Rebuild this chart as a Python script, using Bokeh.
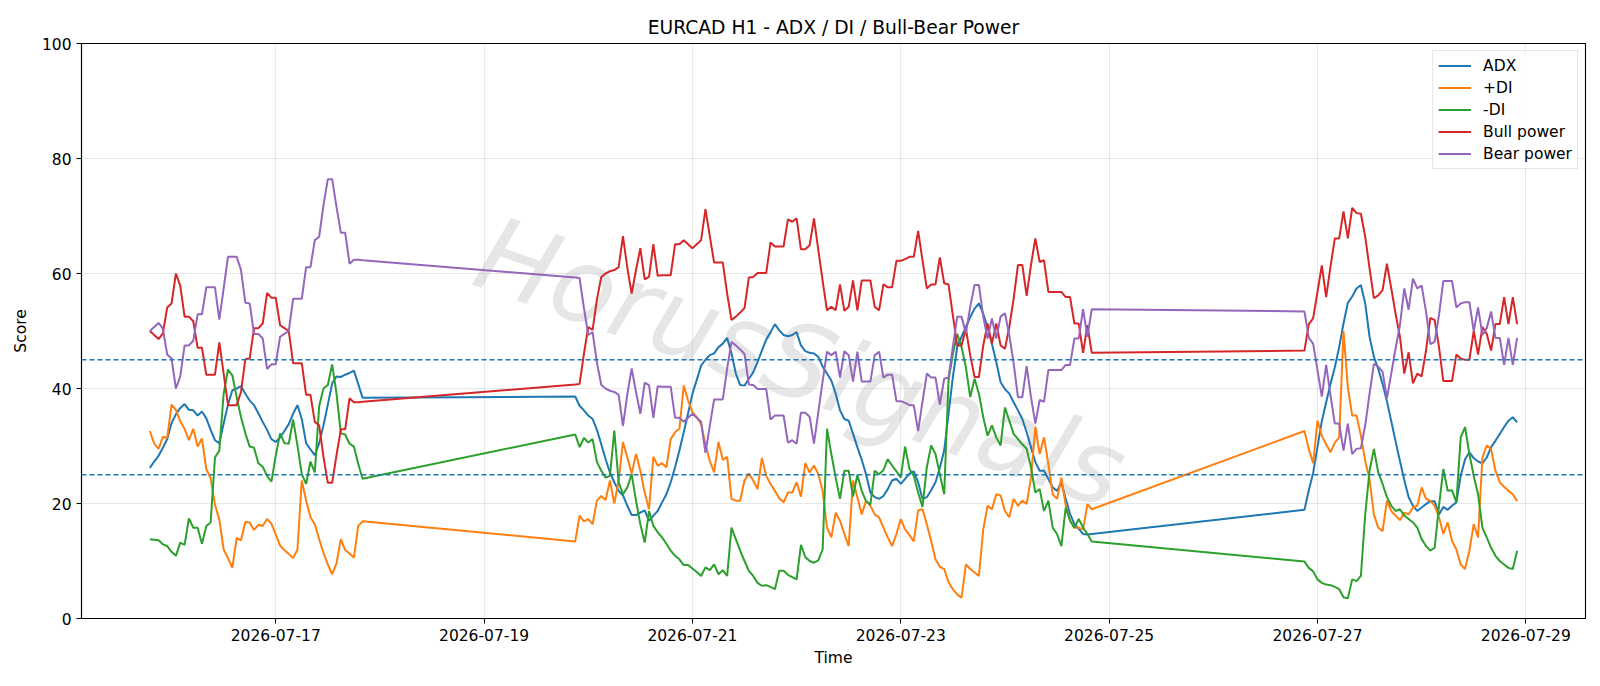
import pandas as pd
from bokeh.plotting import figure
from bokeh.models import Range1d, FixedTicker, DatetimeTickFormatter, Span
from bokeh.embed import file_html
from bokeh.resources import INLINE
from bokeh.core.properties import value

# ---------------- data ----------------
segment_starts = ["2026-07-15 19:00", "2026-07-19 21:00", "2026-07-26 21:00"]
segment_hours = [50, 120, 50]

adx_seg1 = [26.2, 27.3, 28.3, 29.7, 31.2, 34.0, 35.5, 36.6, 37.3, 36.3,
            36.2, 35.3, 36.0, 34.8, 32.8, 31.0, 30.5, 33.9, 37.2, 39.7,
            40.0, 40.4, 39.1, 37.9, 37.1, 35.7, 34.2, 32.8, 31.2, 30.7,
            31.5, 32.6, 33.8, 35.6, 37.1, 34.7, 30.5, 29.4, 28.4, 30.5,
            33.6, 37.2, 40.9, 42.1, 42.0, 42.4, 42.7, 43.1, 40.8, 38.4]
adx_seg2 = [38.6, 37.0, 36.2, 35.3, 34.7, 32.8, 30.3, 27.7, 25.4, 23.7,
            22.2, 21.4, 19.6, 18.0, 18.0, 18.4, 18.8, 17.0, 17.9, 18.7,
            20.2, 21.6, 23.7, 26.3, 29.2, 32.4, 35.7, 39.1, 41.5, 44.0,
            45.0, 45.8, 46.1, 47.2, 47.8, 48.8, 46.1, 42.6, 40.6, 40.5,
            41.7, 42.8, 44.6, 46.6, 48.5, 49.8, 51.2, 50.1, 49.3, 49.1,
            49.3, 49.8, 47.5, 46.5, 46.2, 46.1, 45.5, 43.8, 42.6, 41.4,
            39.1, 36.2, 34.7, 34.4, 32.1, 29.8, 27.6, 25.1, 21.9, 21.1,
            20.8, 21.3, 22.5, 24.0, 24.3, 23.4, 24.3, 25.2, 25.6, 23.7,
            20.8, 21.1, 22.3, 23.7, 26.2, 29.2, 35.6, 42.0, 47.2, 49.0,
            50.7, 52.4, 53.9, 54.8, 53.0, 50.7, 47.8, 44.6, 41.1, 39.9,
            39.1, 37.6, 36.2, 34.7, 32.4, 29.8, 27.2, 25.7, 25.7, 24.3,
            22.8, 22.2, 23.7, 20.8, 18.2, 16.4, 15.6, 14.7, 14.6, 14.7]
adx_seg3 = [18.9, 22.3, 25.3, 29.8, 34.3, 37.6, 40.8, 43.7, 47.2, 51.3,
            54.9, 56.0, 57.4, 58.0, 54.8, 49.0, 45.5, 43.4, 40.8, 37.8,
            34.3, 30.8, 27.4, 24.1, 21.1, 19.6, 18.7, 19.3, 19.9, 20.4,
            20.4, 18.1, 19.4, 18.9, 19.6, 20.2, 24.8, 27.7, 28.9, 27.9,
            27.3, 27.0, 28.0, 29.8, 30.9, 32.1, 33.3, 34.4, 35.0, 34.1]

pdi_seg1 = [32.6, 30.4, 29.5, 31.6, 31.4, 37.2, 36.3, 34.3, 33.0, 31.0,
            33.0, 29.9, 31.3, 26.0, 24.4, 19.8, 17.2, 12.0, 10.5, 8.8,
            14.0, 13.6, 16.8, 16.7, 15.4, 16.3, 16.1, 17.3, 16.5, 14.6,
            12.7, 11.9, 11.2, 10.5, 12.0, 24.0, 20.5, 17.6, 16.4, 13.8,
            11.4, 9.4, 7.7, 9.6, 13.8, 11.9, 11.3, 10.6, 16.1, 16.9]
pdi_seg2 = [13.4, 17.9, 16.9, 17.3, 16.4, 20.5, 21.3, 20.6, 24.0, 20.0,
            24.0, 30.7, 28.0, 25.2, 28.6, 25.7, 21.9, 19.0, 28.1, 26.6,
            27.0, 26.3, 31.2, 32.4, 33.0, 40.5, 37.9, 35.9, 35.0, 33.8,
            30.3, 27.4, 25.4, 30.7, 27.6, 28.1, 20.8, 20.5, 20.5, 24.0,
            25.2, 24.0, 22.5, 27.9, 24.8, 23.4, 22.2, 20.9, 20.2, 21.9,
            21.9, 23.7, 21.2, 27.0, 25.4, 26.6, 25.1, 22.2, 15.8, 14.1,
            18.4, 17.0, 14.7, 12.6, 24.0, 21.1, 18.1, 20.5, 19.6, 18.1,
            17.6, 15.8, 14.1, 12.6, 14.7, 17.3, 15.5, 14.5, 13.4, 18.8,
            19.0, 16.4, 13.5, 10.3, 9.0, 8.6, 6.3, 5.1, 4.2, 3.6,
            9.4, 8.6, 8.0, 7.4, 15.5, 19.6, 19.0, 21.6, 21.4, 18.7,
            17.6, 20.8, 19.6, 20.5, 19.9, 24.5, 33.3, 28.6, 31.5, 26.9,
            21.6, 20.8, 24.5, 19.6, 17.0, 15.8, 15.8, 15.5, 19.9, 19.0]
pdi_seg3 = [32.6, 29.5, 27.0, 34.4, 31.8, 30.3, 28.9, 30.6, 31.5, 50.0,
            40.2, 35.3, 35.3, 31.8, 27.4, 24.2, 18.1, 15.8, 15.2, 20.5,
            18.7, 17.9, 17.1, 18.4, 18.1, 19.3, 19.6, 22.8, 20.8, 20.5,
            19.6, 17.6, 14.7, 16.7, 13.5, 12.0, 9.4, 8.6, 11.8, 16.4,
            14.1, 28.0, 30.1, 29.5, 25.7, 23.7, 22.9, 22.2, 21.6, 20.4]

mdi_seg1 = [13.8, 13.7, 13.6, 12.9, 12.6, 11.6, 10.9, 13.2, 12.8, 17.4,
            15.8, 15.8, 13.0, 16.1, 16.7, 28.0, 29.2, 39.1, 43.3, 42.3,
            38.5, 35.0, 32.2, 29.9, 29.7, 27.0, 26.4, 24.8, 23.8, 28.3,
            32.2, 30.5, 30.4, 34.6, 30.1, 25.1, 23.4, 27.3, 25.4, 36.9,
            40.0, 40.6, 44.2, 39.1, 32.2, 32.0, 30.4, 29.9, 26.9, 24.3]
mdi_seg2 = [32.0, 29.8, 31.4, 30.6, 31.2, 27.2, 25.7, 24.5, 24.8, 32.7,
            23.7, 21.6, 22.8, 25.1, 20.5, 16.4, 13.2, 18.7, 16.1, 15.0,
            14.1, 13.0, 11.8, 10.9, 10.3, 9.3, 9.3, 8.7, 8.1, 7.4,
            8.9, 8.4, 9.4, 7.7, 8.4, 7.4, 15.8, 13.8, 11.8, 10.0,
            8.3, 7.4, 6.2, 5.7, 5.8, 5.5, 5.1, 8.3, 8.3, 7.6,
            7.2, 6.8, 12.8, 10.7, 10.0, 9.7, 10.1, 12.0, 33.0, 28.6,
            24.5, 20.8, 25.7, 25.7, 21.2, 25.0, 22.2, 20.4, 19.8, 25.7,
            25.1, 25.8, 27.7, 26.6, 25.6, 24.5, 29.9, 26.0, 24.8, 21.9,
            19.4, 26.3, 30.1, 28.6, 25.1, 21.6, 41.4, 46.0, 49.5, 47.2,
            43.7, 38.5, 41.7, 39.1, 35.0, 31.8, 33.6, 31.5, 30.1, 36.7,
            34.4, 32.1, 31.2, 30.3, 29.5, 26.3, 21.9, 22.5, 18.7, 20.5,
            15.8, 14.7, 12.6, 19.3, 17.0, 15.8, 17.3, 15.8, 14.7, 13.4]
mdi_seg3 = [9.9, 8.8, 8.2, 6.8, 6.2, 5.9, 5.8, 5.5, 5.1, 3.7,
            3.5, 6.8, 6.5, 7.4, 18.1, 25.7, 29.5, 25.4, 23.4, 21.1,
            19.6, 18.7, 19.0, 17.9, 17.3, 16.7, 15.8, 13.8, 12.6, 11.8,
            12.3, 19.6, 26.0, 22.2, 22.3, 20.2, 31.5, 33.3, 28.6, 24.8,
            21.6, 15.8, 14.1, 12.3, 10.9, 10.0, 9.4, 8.8, 8.6, 11.8]

bull_seg1 = [50.0, 49.3, 48.6, 49.6, 54.1, 54.8, 60.0, 57.9, 52.5, 52.5,
             51.7, 47.1, 47.1, 42.4, 42.4, 42.4, 48.0, 42.6, 37.1, 37.1,
             37.1, 39.4, 45.1, 45.2, 50.5, 50.5, 51.3, 56.6, 55.8, 55.8,
             51.0, 50.5, 50.0, 44.4, 44.4, 44.4, 38.9, 38.9, 34.2, 33.6,
             28.1, 23.6, 23.6, 28.4, 32.9, 32.9, 38.3, 37.6, 37.6, 37.7]
bull_seg2 = [40.7, 40.8, 46.0, 50.7, 50.2, 55.5, 59.4, 60.0, 60.4, 60.6,
             61.1, 66.5, 61.0, 56.5, 60.6, 64.4, 59.0, 59.4, 65.1, 59.6,
             59.7, 59.7, 59.7, 65.1, 65.1, 65.8, 65.1, 64.4, 65.1, 65.8,
             71.2, 66.5, 61.9, 61.9, 61.9, 56.5, 51.9, 52.5, 53.2, 54.0,
             59.3, 59.4, 60.1, 60.1, 60.1, 65.4, 64.7, 64.7, 64.7, 69.4,
             69.0, 69.6, 64.2, 64.2, 64.9, 69.6, 64.1, 58.7, 53.6, 54.2,
             53.6, 58.1, 53.5, 54.2, 58.8, 53.6, 58.8, 58.8, 58.8, 54.2,
             53.6, 58.1, 57.6, 57.6, 62.2, 62.2, 62.5, 62.9, 62.9, 67.4,
             62.3, 57.4, 58.1, 58.1, 62.8, 58.3, 58.1, 52.7, 47.5, 47.5,
             50.4, 45.8, 42.0, 42.0, 47.5, 51.3, 47.8, 51.3, 47.5, 46.9,
             50.7, 55.6, 61.5, 61.5, 56.1, 61.5, 66.1, 62.0, 62.3, 56.8,
             56.8, 56.8, 56.8, 55.9, 55.9, 51.3, 51.3, 46.2, 51.0, 46.2]
bull_seg3 = [46.6, 51.2, 52.2, 56.8, 61.4, 55.9, 61.2, 66.1, 66.1, 70.8,
             66.1, 71.4, 70.5, 70.4, 66.4, 60.9, 55.7, 56.2, 57.1, 61.7,
             57.4, 53.0, 49.0, 42.6, 46.3, 40.9, 42.6, 42.1, 46.6, 52.3,
             51.9, 47.2, 41.3, 41.3, 41.3, 45.9, 45.2, 45.0, 45.0, 50.0,
             45.9, 50.7, 49.5, 46.6, 51.2, 51.2, 55.9, 51.2, 55.9, 51.2]

bear_seg1 = [50.0, 50.7, 51.4, 50.4, 45.9, 45.2, 40.0, 42.1, 47.5, 47.5,
             48.3, 52.9, 52.9, 57.6, 57.6, 57.6, 52.0, 57.4, 62.9, 62.9,
             62.9, 60.6, 54.9, 54.8, 49.5, 49.5, 48.7, 43.4, 44.2, 44.2,
             49.0, 49.5, 50.0, 55.6, 55.6, 55.6, 61.1, 61.1, 65.8, 66.4,
             71.9, 76.4, 76.4, 71.6, 67.1, 67.1, 61.7, 62.4, 62.4, 62.3]
bear_seg2 = [59.3, 59.2, 54.0, 49.3, 49.8, 44.5, 40.6, 40.0, 39.6, 39.4,
             38.9, 33.5, 39.0, 43.5, 39.4, 35.6, 41.0, 40.6, 34.9, 40.4,
             40.3, 40.3, 40.3, 34.9, 34.9, 34.2, 34.9, 35.6, 34.9, 34.2,
             28.8, 33.5, 38.1, 38.1, 38.1, 43.5, 48.1, 47.5, 46.8, 46.0,
             40.7, 40.6, 39.9, 39.9, 39.9, 34.6, 35.3, 35.3, 35.3, 30.6,
             31.0, 30.4, 35.8, 35.8, 35.1, 30.4, 35.9, 41.3, 46.4, 45.8,
             46.4, 41.9, 46.5, 45.8, 41.2, 46.4, 41.2, 41.2, 41.2, 45.8,
             46.4, 41.9, 42.4, 42.4, 37.8, 37.8, 37.5, 37.1, 37.1, 32.6,
             37.7, 42.6, 41.9, 41.9, 37.2, 41.7, 41.9, 47.3, 52.5, 52.5,
             49.6, 54.2, 58.0, 58.0, 52.5, 48.7, 52.2, 48.7, 52.5, 53.1,
             49.3, 44.4, 38.5, 38.5, 43.9, 38.5, 33.9, 38.0, 37.7, 43.2,
             43.2, 43.2, 43.2, 44.1, 44.1, 48.7, 48.7, 53.8, 49.0, 53.8]
bear_seg3 = [53.4, 48.8, 47.8, 43.2, 38.6, 44.1, 38.8, 33.9, 33.9, 29.2,
             33.9, 28.6, 29.5, 29.6, 33.6, 39.1, 44.3, 43.8, 42.9, 38.3,
             42.6, 47.0, 51.0, 57.4, 53.7, 59.1, 57.4, 57.9, 53.4, 47.7,
             48.1, 52.8, 58.7, 58.7, 58.7, 54.1, 54.8, 55.0, 55.0, 50.0,
             54.1, 49.3, 50.5, 53.4, 48.8, 48.8, 44.1, 48.8, 44.1, 48.8]

x_tick_dates = ["2026-07-17", "2026-07-19", "2026-07-21", "2026-07-23",
                "2026-07-25", "2026-07-27", "2026-07-29"]
y_ticks = [0, 20, 40, 60, 80, 100]
ref_levels = [25, 45]
series_names = ["ADX", "+DI", "-DI", "Bull power", "Bear power"]
series_colors = ["#1f77b4", "#ff7f0e", "#2ca02c", "#d62728", "#9467bd"]
title_text = "EURCAD H1 - ADX / DI / Bull-Bear Power"
watermark_text = "HorusSignals"

# ---------------- build ----------------
times = []
for s, n in zip(segment_starts, segment_hours):
    times.extend(list(pd.date_range(s, periods=n, freq="h")))

series = [
    adx_seg1 + adx_seg2 + adx_seg3,
    pdi_seg1 + pdi_seg2 + pdi_seg3,
    mdi_seg1 + mdi_seg2 + mdi_seg3,
    bull_seg1 + bull_seg2 + bull_seg3,
    bear_seg1 + bear_seg2 + bear_seg3,
]

t0, t1 = times[0], times[-1]
pad = (t1 - t0) * 0.05
FONT = "DejaVu Sans"

p = figure(width=1600, height=686, x_axis_type="datetime",
           output_backend="svg", toolbar_location=None,
           x_range=Range1d(t0 - pad, t1 + pad), y_range=Range1d(0, 100),
           min_border_left=81, min_border_right=15,
           min_border_top=43, min_border_bottom=68)

p.title.text = title_text
p.title.align = "center"
p.title.text_font = FONT
p.title.text_font_size = "18.7px"
p.title.text_font_style = "normal"
p.title.text_color = "#000000"
p.title.standoff = 11

p.outline_line_color = "#000000"
p.outline_line_width = 1.1
p.background_fill_color = "white"
p.border_fill_color = "white"

# watermark
wm_x = [pd.Timestamp("2026-07-22 01:00")]
wm_y = [44.5]
p.text(x=wm_x, y=wm_y, text=[watermark_text], angle=-0.34,
       text_font=value(FONT), text_font_style="italic",
       text_font_size="104px", text_color="#bdbdbd", text_alpha=0.38,
       text_align="center", text_baseline="middle")

for lv in ref_levels:
    p.add_layout(Span(location=lv, dimension="width", line_color="#1f77b4",
                      line_dash="5 3", line_width=1.4))

for vals, name, col in zip(series, series_names, series_colors):
    p.line(times, vals, line_color=col, line_width=2, legend_label=name)

tick_ms = [pd.Timestamp(d).value // 10**6 for d in x_tick_dates]
p.xaxis.ticker = FixedTicker(ticks=tick_ms)
fmt = "%Y-%m-%d"
p.xaxis.formatter = DatetimeTickFormatter(
    milliseconds=fmt, seconds=fmt, minsec=fmt, minutes=fmt, hourmin=fmt,
    hours=fmt, days=fmt, months=fmt, years=fmt)
p.yaxis.ticker = FixedTicker(ticks=y_ticks)

for ax in (p.xaxis, p.yaxis):
    ax.axis_label_text_font = FONT
    ax.axis_label_text_font_size = "15.5px"
    ax.axis_label_text_font_style = "normal"
    ax.axis_label_text_color = "#000000"
    ax.major_label_text_font = FONT
    ax.major_label_text_font_size = "15.5px"
    ax.major_label_text_color = "#000000"
    ax.axis_line_color = "#000000"
    ax.axis_line_width = 1.1
    ax.major_tick_line_color = "#000000"
    ax.major_tick_out = 5
    ax.major_tick_in = 0
    ax.minor_tick_out = 0
    ax.minor_tick_in = 0
    ax.major_label_standoff = 5

p.xaxis.axis_label_standoff = 5
p.yaxis.axis_label_standoff = 9
p.xaxis.axis_label = "Time"
p.yaxis.axis_label = "Score"

p.xgrid.ticker = FixedTicker(ticks=tick_ms)
p.ygrid.ticker = FixedTicker(ticks=y_ticks)
for g in (p.xgrid, p.ygrid):
    g.grid_line_color = "#b0b0b0"
    g.grid_line_alpha = 0.3
    g.grid_line_width = 1.1

lg = p.legend[0]
lg.location = "top_right"
lg.margin = 7
lg.padding = 5
lg.spacing = 3
lg.glyph_width = 33
lg.glyph_height = 19
lg.label_height = 19
lg.label_standoff = 12
lg.label_text_font = FONT
lg.label_text_font_size = "15.5px"
lg.label_text_color = "#000000"
lg.border_line_color = "#cccccc"
lg.border_line_width = 1
lg.background_fill_alpha = 0.8

open("out.html", "w").write(file_html(p, INLINE))
